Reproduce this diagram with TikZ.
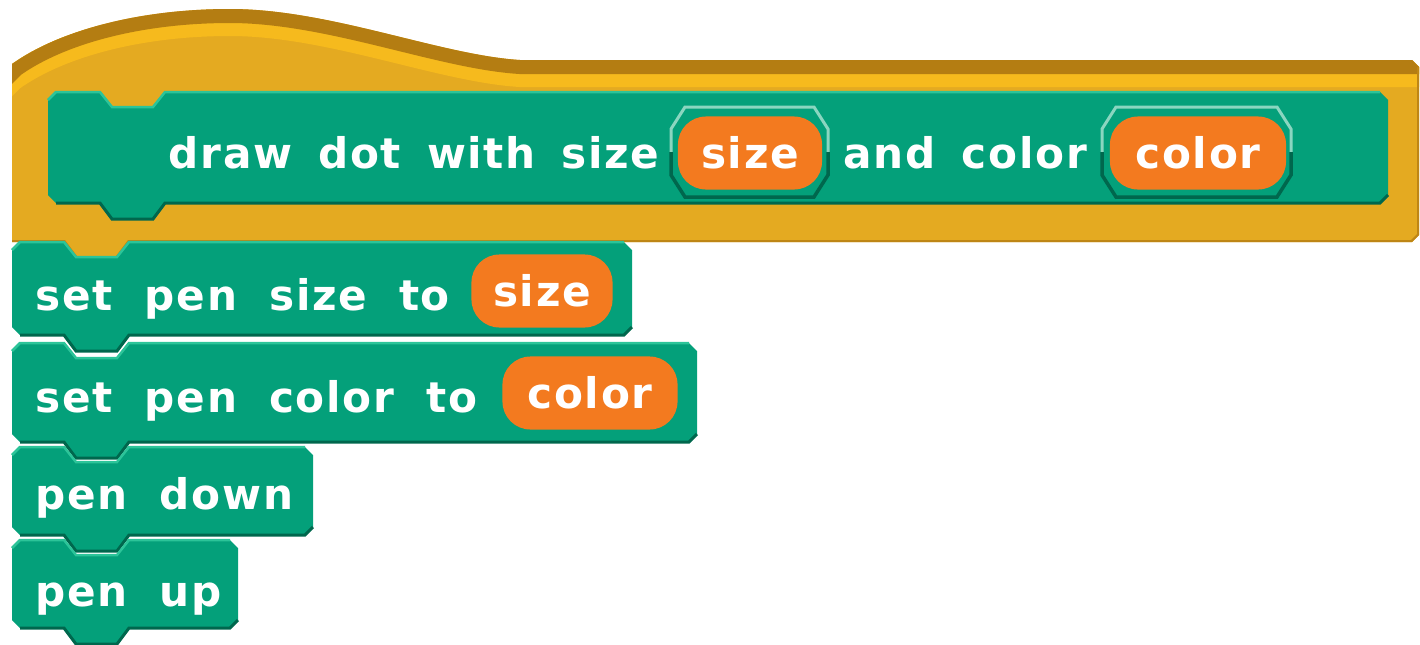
\documentclass[tikz,border=0pt]{standalone}
\usepackage{fontspec}
\newfontfamily\blkfont{DejaVu Sans}[LetterSpace=4]
\newcommand{\protofont}{\blkfont\bfseries\fontsize{12}{14}\selectfont\spaceskip 0.26cm\relax}
\newcommand{\cmdfont}{\blkfont\bfseries\fontsize{12}{14}\selectfont\spaceskip 0.32cm\relax}

\definecolor{PenGreen}{HTML}{04A07A}
\definecolor{PenDark}{HTML}{00674D}
\definecolor{PenLight}{HTML}{2CC499}
\definecolor{SlotLight}{HTML}{8AD6C0}
\definecolor{VarOrange}{HTML}{F37A1F}
\definecolor{HatGold}{HTML}{E4AA21}
\definecolor{HatDark}{HTML}{B47D12}
\definecolor{HatLight}{HTML}{F6BA1D}

\newcommand{\cmdblock}[4]{%
  \fill[PenGreen] (#1,#2+8) -- (#1+8,#2) -- (#1+52,#2) -- (#1+64,#2+15) -- (#1+105,#2+15) -- (#1+117,#2)
    -- (#3-8,#2) -- (#3,#2+8) -- (#3,#4-8) -- (#3-8,#4) -- (#1+117,#4) -- (#1+105,#4+16)
    -- (#1+64,#4+16) -- (#1+52,#4) -- (#1+8,#4) -- (#1,#4-8) -- cycle;
  \draw[PenLight, line width=0.025cm] (#1,#2+8) -- (#1+8,#2) -- (#1+52,#2) -- (#1+64,#2+15)
    -- (#1+105,#2+15) -- (#1+117,#2) -- (#3-8,#2);
  \draw[PenDark, line width=0.03cm] (#3,#4-8) -- (#3-8,#4) -- (#1+117,#4) -- (#1+105,#4+16)
    -- (#1+64,#4+16) -- (#1+52,#4) -- (#1+8,#4);}

\newcommand{\slotframe}[4]{%
  \fill[PenGreen] (#1+14,#2) -- (#3-14,#2) -- (#3,#2+22) -- (#3,#4-22) -- (#3-14,#4)
    -- (#1+14,#4) -- (#1,#4-22) -- (#1,#2+22) -- cycle;
  \draw[SlotLight, line width=0.03cm] (#1,#2/2+#4/2) -- (#1,#2+22) -- (#1+14,#2) -- (#3-14,#2)
    -- (#3,#2+22) -- (#3,#2/2+#4/2);
  \draw[PenDark, line width=0.035cm] (#1,#2/2+#4/2) -- (#1,#4-22) -- (#1+14,#4) -- (#3-14,#4)
    -- (#3,#4-22) -- (#3,#2/2+#4/2);}

\begin{document}
\begin{tikzpicture}[x=0.01cm,y=-0.01cm,
  blocktext/.style={anchor=base west,inner sep=0pt,text=white,font=\protofont},
  cmdtext/.style={blocktext,font=\cmdfont},
  var/.style={fill=VarOrange,text=white,rounded corners=0.28cm,inner sep=0pt,minimum height=0.73cm,
    font=\blkfont\bfseries\fontsize{12}{14}\selectfont}]

\useasboundingbox (0,0) rectangle (1420,645);

\begin{scope}
\clip (12,242) -- (12,64) .. controls (60,30) and (140,9) .. (230,9) .. controls (330,9) and (440,55) .. (520,60)
  -- (1412,60) -- (1419,67) -- (1419,235) -- (1412,242) -- (129,242) -- (117,258) -- (76,258) -- (64,242) -- cycle;
\fill[HatGold] (0,0) rectangle (1420,645);
\draw[HatLight, line width=0.26cm, shift={(0,14)}] (0,76) -- (12,64) .. controls (60,30) and (140,9) .. (230,9)
  .. controls (330,9) and (440,55) .. (520,60) -- (1430,60);
\draw[HatDark, line width=0.28cm] (0,76) -- (12,64) .. controls (60,30) and (140,9) .. (230,9)
  .. controls (330,9) and (440,55) .. (520,60) -- (1430,60);
\draw[HatDark!80!HatGold, line width=0.04cm] (1419,67) -- (1419,235) -- (1412,242) -- (129,242) -- (117,258)
  -- (76,258) -- (64,242) -- (12,242);
\end{scope}

\cmdblock{48}{92}{1388}{203}
\slotframe{671}{107}{828}{197}
\slotframe{1102}{107}{1291}{197}

\node[blocktext] (Head) at (168,168) {draw dot with size};
\node[var, minimum width=1.44cm] (SizeIn) at (750,153) {size};
\node[blocktext] (And) at (843,168) {and color};
\node[var, minimum width=1.76cm] (ColorIn) at (1198,153) {color};

\cmdblock{12}{242}{632}{335}
\cmdblock{12}{343}{697}{442}
\cmdblock{12}{447}{313}{535}
\cmdblock{12}{540}{238}{628}

\node[cmdtext] (SetSize) at (35,310) {set pen size to};
\node[var, minimum width=1.41cm] (SizeVar) at (542,291) {size};
\node[cmdtext] (SetColor) at (35,412) {set pen color to};
\node[var, minimum width=1.75cm] (ColorVar) at (590,393) {color};
\node[cmdtext] (Down) at (35,509) {pen down};
\node[cmdtext] (Up) at (35,606) {pen up};

\end{tikzpicture}
\end{document}
